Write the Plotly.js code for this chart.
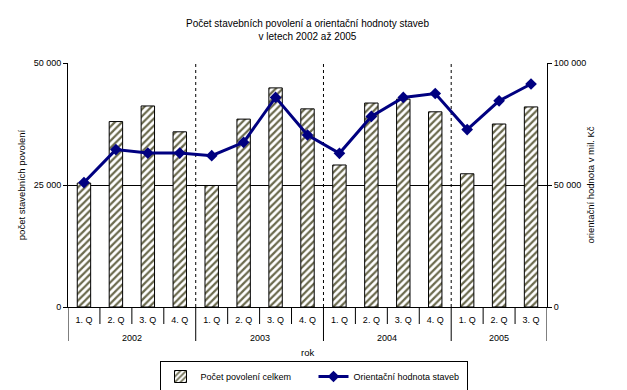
<!DOCTYPE html>
<html>
<head>
<meta charset="utf-8">
<script src="https://cdn.plot.ly/plotly-3.0.1.min.js"></script>
<style>
html,body{margin:0;padding:0;background:#fff;}
#chart{width:627px;height:390px;}
</style>
</head>
<body>
<div id="chart"></div>
<script>
// ---- data ----
const quarterLabels = ["1. Q","2. Q","3. Q","4. Q","1. Q","2. Q","3. Q","4. Q","1. Q","2. Q","3. Q","4. Q","1. Q","2. Q","3. Q"];
const yearLabels = ["2002","2003","2004","2005"];
const quartersPerYear = [4, 4, 4, 3];
const permits = [25400, 38000, 41200, 35900, 24900, 38500, 44900, 40600, 29100, 41800, 42600, 40000, 27300, 37500, 41000];
const values = [51000, 64500, 63100, 63100, 62000, 67500, 85900, 70500, 63000, 78100, 85900, 87500, 72700, 84500, 91400];
const seriesNames = ["Počet povolení celkem", "Orientační hodnota staveb"];

const xIdx = quarterLabels.map((_, i) => i);
const plotH = 244; // plot area height in px (for paper offsets)
const FONT = "Liberation Sans, Arial, sans-serif";

// year boundaries & centers
const boundaries = [-0.5];
const centers = [];
let acc = 0;
quartersPerYear.forEach(n => {
  centers.push(acc + (n - 1) / 2);
  acc += n;
  boundaries.push(acc - 0.5);
});

const shapes = [];
// dashed year dividers inside plot
boundaries.slice(1, -1).forEach(b => {
  shapes.push({type: "line", xref: "x", yref: "paper", x0: b, x1: b, y0: 0, y1: 1,
    line: {color: "black", width: 1, dash: "3px,3px"}, layer: "below"});
});
// year dividers below axis
boundaries.forEach(b => {
  shapes.push({type: "line", xref: "x", yref: "paper", x0: b, x1: b, y0: 0, y1: -34 / plotH,
    line: {color: "black", width: 1}});
});
// quarter dividers below axis
for (let i = 0; i < quarterLabels.length - 1; i++) {
  const b = i + 0.5;
  if (boundaries.includes(b)) continue;
  shapes.push({type: "line", xref: "x", yref: "paper", x0: b, x1: b, y0: 0, y1: -17 / plotH,
    line: {color: "black", width: 1}});
}

const annotations = yearLabels.map((y, k) => ({
  text: y, xref: "x", yref: "paper", x: centers[k], y: -30.5 / plotH,
  showarrow: false, xanchor: "center", yanchor: "middle",
  font: {family: FONT, size: 9, color: "black"}
}));
annotations.push({
  text: "rok", xref: "paper", yref: "paper", x: 0.5, y: -45 / plotH,
  showarrow: false, xanchor: "center", yanchor: "middle",
  font: {family: FONT, size: 9.5, color: "black"}
});

const traces = [
  {
    type: "bar", name: seriesNames[0], x: xIdx, y: permits, yaxis: "y",
    marker: {
      color: "white",
      line: {color: "black", width: 1},
      pattern: {shape: "/", fgcolor: "#6b6a4e", bgcolor: "white", size: 5, solidity: 0.45}
    },
    hoverinfo: "y"
  },
  {
    type: "scatter", mode: "lines+markers", name: seriesNames[1], x: xIdx, y: values, yaxis: "y2",
    line: {color: "#000080", width: 3},
    marker: {symbol: "diamond", size: 9, color: "#000080"}
  }
];

const layout = {
  width: 627, height: 390,
  margin: {l: 68, r: 80, t: 63, b: 83},
  paper_bgcolor: "white", plot_bgcolor: "white",
  separators: ", ",
  font: {family: FONT, size: 9, color: "black"},
  showlegend: true,
  bargap: 0.58,
  title: {
    text: "Počet stavebních povolení a orientační hodnoty staveb<br>v letech 2002 až 2005",
    font: {family: FONT, size: 10, color: "black"},
    x: 0.5, xref: "paper", xanchor: "center", y: 1 - 27 / 390, yref: "container", yanchor: "middle"
  },
  xaxis: {
    type: "linear", range: [-0.5, 14.5],
    tickvals: xIdx, ticktext: quarterLabels,
    ticks: "outside", ticklen: 4, tickcolor: "rgba(0,0,0,0)",
    showline: true, linecolor: "black", linewidth: 1,
    showgrid: false, zeroline: false, fixedrange: true,
    tickfont: {family: FONT, size: 9, color: "black"}
  },
  yaxis: {
    range: [0, 50000], tickvals: [0, 25000, 50000], tickformat: ",d",
    ticks: "outside", ticklen: 4, tickcolor: "black",
    showline: true, linecolor: "black", linewidth: 1,
    showgrid: true, gridcolor: "black", gridwidth: 1, zeroline: false,
    tickfont: {family: FONT, size: 9, color: "black"},
    title: {text: "počet stavebních povolení", font: {family: FONT, size: 9.5, color: "black"}, standoff: 6},
    automargin: false
  },
  yaxis2: {
    overlaying: "y", side: "right",
    range: [0, 100000], tickvals: [0, 50000, 100000], tickformat: ",d",
    ticks: "outside", ticklen: 4, tickcolor: "black",
    showline: true, linecolor: "black", linewidth: 1,
    showgrid: false, zeroline: false,
    tickfont: {family: FONT, size: 9, color: "black"},
    title: {text: "orientační hodnota v mil. Kč", font: {family: FONT, size: 9.5, color: "black"}, standoff: 2},
    automargin: false
  },
  legend: {
    orientation: "h", x: 0.5, xref: "container", xanchor: "center",
    y: 13.5 / 390, yanchor: "middle", yref: "container",
    bordercolor: "black", borderwidth: 1, bgcolor: "white",
    font: {family: FONT, size: 9, color: "black"},
    entrywidth: 108, entrywidthmode: "pixels",
    itemwidth: 30, tracegroupgap: 0
  },
  shapes: shapes,
  annotations: annotations
};

Plotly.newPlot("chart", traces, layout, {displayModeBar: false, staticPlot: true});
</script>
</body>
</html>
